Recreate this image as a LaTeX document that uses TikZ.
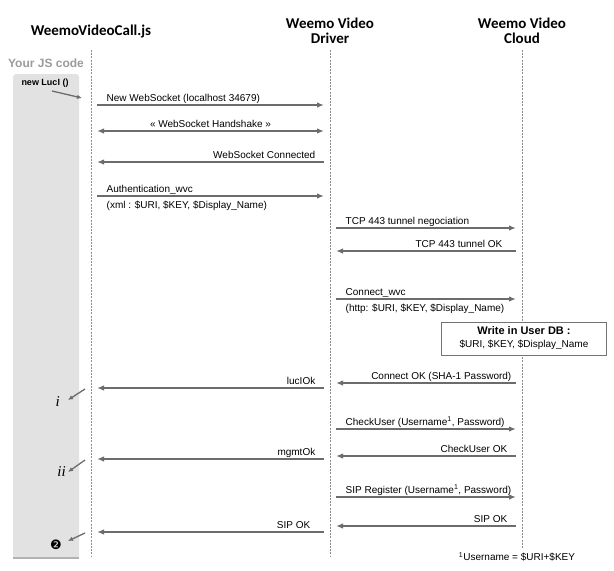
\documentclass[tikz,border=0pt]{standalone}
\usepackage{fontspec}
\setmainfont{Liberation Sans}
\newfontfamily\headfont{Carlito}
\newfontfamily\symfont{DejaVu Sans}
\newfontfamily\romfont{Liberation Serif}
\usetikzlibrary{arrows.meta}
\definecolor{arrowgray}{HTML}{6C6C6C}
\definecolor{linegray}{HTML}{8C8C8C}
\definecolor{boxgray}{HTML}{E2E2E2}
\definecolor{codegray}{HTML}{9C9C9C}
\tikzset{
  head/.style={font=\headfont\bfseries\fontsize{15}{15}\selectfont, align=center, inner sep=0pt},
  life/.style={draw=linegray, line width=0.7pt, dash pattern=on 2pt off 1.2pt},
  msg/.style={draw=arrowgray, line width=1.4pt, -{Latex[length=7pt,width=5.5pt]}, shorten <=6pt, shorten >=6pt},
  msgboth/.style={msg, {Latex[length=7pt,width=5.5pt]}-{Latex[length=7pt,width=5.5pt]}},
  note/.style={draw=arrowgray, line width=1.3pt, -{Latex[length=5pt,width=4.5pt]}},
  lbl/.style={font=\fontsize{10}{12}\selectfont, inner sep=0pt},
  lblR/.style={lbl, pos=0, anchor=base west, xshift=15pt, yshift=4pt},
  lblL/.style={lbl, pos=0, anchor=base east, xshift=-14pt, yshift=4pt},
  lblRb/.style={lbl, pos=0, anchor=base west, xshift=15pt, yshift=-12.5pt},
  stepmark/.style={anchor=east, inner sep=0pt},
}
\begin{document}
\begin{tikzpicture}[x=1pt, y=-1pt]
    \useasboundingbox (0,0) rectangle (614,571);
    % headers
    \node[head, anchor=base] (js) at (91,35) {WeemoVideoCall.js};
    \node[head] (drv) at (330,31) {Weemo Video\\Driver};
    \node[head] (cld) at (522,31) {Weemo Video\\Cloud};
    % JS code column
    \fill[boxgray, rounded corners=3pt] (13,558) -- (13,74) -- (79,74) -- (79,558);
    \draw[draw=black!30, line width=1.6pt] (13,558) -- (79,558);
    \node[font=\bfseries\fontsize{12}{12}\selectfont, text=codegray] (yourjs) at (46,63) {Your JS code};
    \node[font=\bfseries\fontsize{9}{9}\selectfont] (newluci) at (45,83) {new LucI ()};
    % lifelines
    \coordinate (top) at (0,50);
    \coordinate (bot) at (0,557);
    \coordinate (cldbot) at (0,548);
    \draw[life] (js |- top) -- (js |- bot);
    \draw[life] (drv |- top) -- (drv |- bot);
    \draw[life] (cld |- top) -- (cld |- cldbot);
    % message rows
    \foreach \n/\y in {1/105,2/131,3/162,4/196,5/228,6/251,7/299,8/383,9/388,
                       10/429,11/456,12/459,13/497,14/526,15/532}
        \coordinate (r\n) at (0,\y);
    \draw[msg] (js |- r1) -- node[lblR]{New WebSocket (localhost 34679)} (drv |- r1);
    \draw[msgboth] (js |- r2) -- node[lbl, anchor=base, yshift=4pt]{« WebSocket Handshake »} (drv |- r2);
    \draw[msg] (drv |- r3) -- node[lblL]{WebSocket Connected} (js |- r3);
    \draw[msg] (js |- r4) -- node[lblR]{Authentication\_wvc}
        node[lblRb]{(xml : \$URI, \$KEY, \$Display\_Name)} (drv |- r4);
    \draw[msg] (drv |- r5) -- node[lblR]{TCP 443 tunnel negociation} (cld |- r5);
    \draw[msg] (cld |- r6) -- node[lblL, xshift=-5pt]{TCP 443 tunnel OK} (drv |- r6);
    \draw[msg] (drv |- r7) -- node[lblR]{Connect\_wvc}
        node[lblRb]{(http: \$URI, \$KEY, \$Display\_Name)} (cld |- r7);
    % user db box
    \node[draw=black!55, line width=0.8pt, fill=white, minimum width=165pt, minimum height=33pt,
          align=center, font=\fontsize{10}{13}\selectfont] (userdb) at (524,338.5)
        {{\bfseries\fontsize{11}{13}\selectfont Write in User DB :}\\\$URI, \$KEY, \$Display\_Name};
    \draw[msg] (cld |- r8) -- node[lblL, xshift=4pt]{Connect OK (SHA-1 Password)} (drv |- r8);
    \draw[msg] (drv |- r9) -- node[lblL]{lucIOk} (js |- r9);
    \draw[msg] (drv |- r10) -- node[lblR]{CheckUser (Username\textsuperscript{1}, Password)} (cld |- r10);
    \draw[msg] (cld |- r11) -- node[lblL]{CheckUser OK} (drv |- r11);
    \draw[msg] (drv |- r12) -- node[lblL]{mgmtOk} (js |- r12);
    \draw[msg] (drv |- r13) -- node[lblR]{SIP Register (Username\textsuperscript{1}, Password)} (cld |- r13);
    \draw[msg] (cld |- r14) -- node[lblL]{SIP OK} (drv |- r14);
    \draw[msg] (drv |- r15) -- node[lblL, xshift=-5pt]{SIP OK} (js |- r15);
    % callbacks into the JS code
    \coordinate (a0) at (52,91);   \coordinate (a1) at (82,98);
    \coordinate (i0) at (85,389);  \coordinate (i1) at (68,400);
    \coordinate (ii0) at (85,460); \coordinate (ii1) at (68,472);
    \coordinate (t0) at (85,533);  \coordinate (t1) at (68,541);
    \draw[note] (a0) -- (a1);
    \draw[note] (i0) -- (i1);
    \draw[note] (ii0) -- (ii1);
    \draw[note] (t0) -- (t1);
    \node[stepmark, font=\romfont\itshape\fontsize{15}{15}\selectfont] (stepi) at ([xshift=-8pt,yshift=-2pt]i1) {i};
    \node[stepmark, font=\romfont\itshape\fontsize{15}{15}\selectfont] (stepii) at ([xshift=-2pt,yshift=0pt]ii1) {ii};
    \node[stepmark, font=\symfont\fontsize{13}{13}\selectfont] (steptwo) at ([xshift=-6pt,yshift=-4pt]t1) {❷};
    % footnote
    \node[lbl] (foot) at (517,557) {\textsuperscript{1}Username = \$URI+\$KEY};
\end{tikzpicture}
\end{document}
